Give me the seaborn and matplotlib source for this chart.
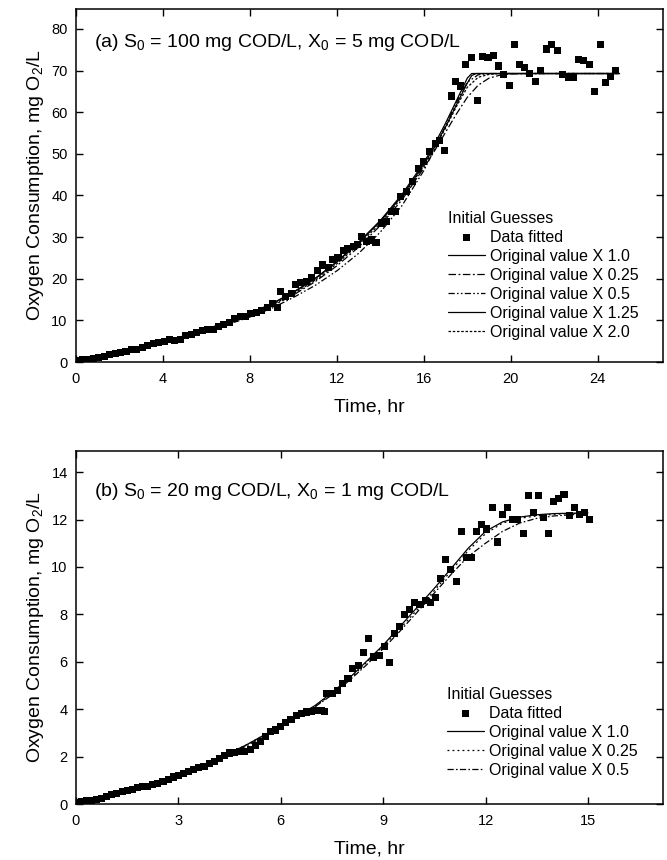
import matplotlib
matplotlib.use("Agg")
import matplotlib.pyplot as plt
import seaborn as sns

# ---------------- data: panel (a) ----------------
t_a = [0.1, 0.3, 0.55, 0.8, 1.05, 1.3, 1.55, 1.8, 2.05, 2.3, 2.55, 2.8, 3.05, 3.3, 3.55, 3.8,
       4.05, 4.3, 4.55, 4.8, 5.05, 5.3, 5.55, 5.8, 6.05, 6.3, 6.55, 6.8, 7.05, 7.3, 7.55, 7.8,
       8.05, 8.3, 8.55, 8.8, 9.05, 9.25, 9.4, 9.65, 9.9, 10.1, 10.35, 10.6, 10.85, 11.1, 11.35,
       11.6, 11.8, 12.05, 12.3, 12.5, 12.75, 12.95, 13.15, 13.35, 13.6, 13.8,
       14.05, 14.28, 14.5, 14.7, 14.94, 15.2, 15.48, 15.74, 16.0, 16.25, 16.54, 16.74, 16.97,
       17.27, 17.47, 17.69, 17.93, 18.19, 18.47, 18.7, 18.95, 19.19, 19.42, 19.68, 19.92,
       20.18, 20.41, 20.64, 20.87, 21.15, 21.38, 21.64, 21.87, 22.15, 22.38, 22.64, 22.87,
       23.1, 23.36, 23.6, 23.86, 24.12, 24.37, 24.6, 24.83]
y_a = [0.4, 0.5, 0.7, 0.9, 1.1, 1.4, 1.7, 2.0, 2.3, 2.6, 2.9, 3.1, 3.5, 3.9, 4.4, 4.6,
       5.0, 5.4, 5.2, 5.4, 6.3, 6.7, 7.1, 7.6, 7.7, 7.9, 8.6, 9.1, 9.4, 10.4, 10.9, 11.0,
       11.6, 12.0, 12.4, 13.0, 14.0, 13.2, 17.0, 15.8, 16.4, 18.6, 19.0, 19.4, 20.4, 22.0, 23.3,
       22.8, 24.6, 25.0, 26.8, 27.2, 27.8, 28.2, 30.2, 29.0, 29.3, 28.8,
       33.4, 33.7, 36.2, 36.1, 39.7, 40.9, 43.3, 46.5, 48.1, 50.5, 52.4, 53.3, 50.7,
       63.9, 67.3, 66.3, 71.5, 73.1, 62.9, 73.4, 73.2, 73.7, 71.1, 69.0, 66.5,
       76.3, 71.5, 70.7, 69.3, 67.3, 70.0, 75.2, 76.3, 74.9, 69.0, 68.4, 68.4,
       72.6, 72.4, 71.5, 65.0, 76.3, 67.1, 68.5, 70.0]

# fitted curves (a)
ct_a_100 = [0, 1, 2, 3, 4, 5, 6, 7, 8, 9, 10, 11, 12, 13, 14, 14.5, 15, 15.5, 16, 16.5, 17, 17.5, 18, 18.2, 18.4, 25]
cy_a_100 = [0, 1.0, 2.2, 3.5, 4.9, 6.3, 7.9, 9.6, 11.6, 13.9, 16.7, 20.0, 24.0, 28.6, 33.8, 36.8, 40.0, 43.6, 47.5, 51.8, 56.5, 61.8, 67.0, 68.8, 69.3, 69.3]
ct_a_025 = [0, 2, 4, 6, 8, 9, 10, 11, 12, 13, 14, 15, 16, 16.5, 17, 17.5, 18, 18.5, 19, 19.5, 20, 21, 25]
cy_a_025 = [0, 2.1, 4.7, 7.6, 11.2, 13.4, 16.1, 19.3, 23.1, 27.6, 32.8, 39.0, 46.6, 50.8, 55.2, 59.6, 63.6, 66.5, 68.2, 68.9, 69.2, 69.3, 69.3]
ct_a_050 = [0, 2, 4, 6, 8, 9, 10, 11, 12, 13, 14, 15, 16, 16.5, 17, 17.5, 18, 18.5, 19, 25]
cy_a_050 = [0, 2.0, 4.5, 7.3, 10.8, 12.9, 15.5, 18.4, 21.9, 26.1, 31.2, 37.6, 46.0, 51.2, 56.8, 62.4, 67.2, 69.0, 69.3, 69.3]
ct_a_125 = [0, 1, 2, 3, 4, 5, 6, 7, 8, 9, 10, 11, 12, 13, 14, 15, 16, 16.5, 17, 17.5, 18, 18.2, 25]
cy_a_125 = [0, 1.0, 2.2, 3.5, 4.9, 6.3, 7.9, 9.7, 11.7, 14.0, 16.8, 20.1, 24.1, 28.8, 34.0, 40.3, 47.9, 52.4, 57.4, 62.8, 68.2, 69.3, 69.3]
ct_a_200 = [0, 2, 4, 6, 8, 9, 10, 11, 12, 13, 14, 15, 16, 16.5, 17, 17.5, 18, 18.5, 19, 19.5, 25]
cy_a_200 = [0, 2.1, 4.8, 7.7, 11.4, 13.6, 16.4, 19.6, 23.6, 28.2, 33.3, 39.6, 47.1, 51.5, 56.2, 61.4, 66.0, 68.4, 69.1, 69.3, 69.3]

# ---------------- data: panel (b) ----------------
t_b = [0.0, 0.15, 0.3, 0.45, 0.6, 0.75, 0.9, 1.05, 1.2, 1.35, 1.5, 1.65, 1.8, 1.95, 2.1, 2.25,
       2.4, 2.55, 2.7, 2.85, 3.0, 3.15, 3.3, 3.45, 3.6, 3.75, 3.9, 4.05, 4.2, 4.35, 4.5, 4.65,
       4.8, 4.95, 5.1, 5.25, 5.4, 5.55, 5.7, 5.85, 6.0, 6.15, 6.3, 6.45, 6.6, 6.75, 6.9, 7.05, 7.2,
       7.29, 7.35, 7.5, 7.65, 7.8, 7.97, 8.1, 8.27, 8.42, 8.57, 8.72, 8.88, 9.03, 9.18, 9.33,
       9.48, 9.63, 9.76, 9.92, 10.08, 10.23, 10.39, 10.54, 10.68, 10.83, 10.98, 11.14, 11.29,
       11.43, 11.58, 11.73, 11.89, 12.04, 12.2, 12.35, 12.5, 12.64, 12.8, 12.95, 13.1, 13.25,
       13.4, 13.55, 13.7, 13.85, 14.0, 14.15, 14.3, 14.45, 14.6, 14.76, 14.9, 15.05]
y_b = [0.08, 0.10, 0.13, 0.16, 0.20, 0.25, 0.32, 0.39, 0.45, 0.52, 0.58, 0.62, 0.68, 0.72, 0.75, 0.82,
       0.88, 0.95, 1.05, 1.14, 1.20, 1.28, 1.38, 1.45, 1.55, 1.60, 1.70, 1.80, 1.92, 2.05, 2.15, 2.18,
       2.20, 2.22, 2.28, 2.45, 2.63, 2.85, 3.05, 3.12, 3.26, 3.45, 3.56, 3.72, 3.80, 3.88, 3.92, 3.96, 3.95,
       3.92, 4.66, 4.66, 4.80, 5.10, 5.30, 5.70, 5.83, 6.40, 6.97, 6.20, 6.26, 6.64, 5.95, 7.20,
       7.50, 8.00, 8.20, 8.50, 8.40, 8.60, 8.50, 8.70, 9.50, 10.30, 9.90, 9.40, 11.50,
       10.40, 10.40, 11.50, 11.80, 11.60, 12.50, 11.05, 12.20, 12.50, 12.00, 12.00, 11.40, 13.00,
       12.30, 13.00, 12.10, 11.40, 12.75, 12.90, 13.05, 12.15, 12.50, 12.20, 12.30, 12.00]

ct_b_100 = [0, 1, 2, 3, 4, 5, 6, 7, 7.5, 8, 8.5, 9, 9.5, 10, 10.5, 11, 11.5, 12, 12.5, 13, 13.5, 14, 15]
cy_b_100 = [0, 0.33, 0.72, 1.2, 1.8, 2.5, 3.3, 4.15, 4.7, 5.3, 6.0, 6.7, 7.5, 8.3, 9.1, 9.95, 10.8, 11.5, 11.9, 12.1, 12.2, 12.25, 12.28]
ct_b_025 = [0, 1, 2, 3, 4, 5, 6, 7, 7.5, 8, 8.5, 9, 9.5, 10, 10.5, 11, 11.5, 12, 12.5, 13, 13.5, 14, 15]
cy_b_025 = [0, 0.33, 0.72, 1.2, 1.8, 2.5, 3.3, 4.1, 4.65, 5.25, 5.95, 6.65, 7.4, 8.2, 9.0, 9.85, 10.7, 11.4, 11.85, 12.05, 12.15, 12.22, 12.27]
ct_b_050 = [0, 1, 2, 3, 4, 5, 6, 7, 7.5, 8, 8.5, 9, 9.5, 10, 10.5, 11, 11.5, 12, 12.5, 13, 13.5, 14, 15]
cy_b_050 = [0, 0.32, 0.7, 1.18, 1.75, 2.45, 3.25, 4.1, 4.6, 5.2, 5.85, 6.55, 7.3, 8.1, 8.9, 9.7, 10.45, 11.0, 11.5, 11.85, 12.05, 12.15, 12.25]

labels_a = ["Original value X 1.0", "Original value X 0.25", "Original value X 0.5",
            "Original value X 1.25", "Original value X 2.0"]
labels_b = ["Original value X 1.0", "Original value X 0.25", "Original value X 0.5"]

# ---------------- style ----------------
sns.set_style("ticks")
plt.rcParams["font.family"] = ["Liberation Sans", "DejaVu Sans"]
plt.rcParams["mathtext.fontset"] = "custom"
plt.rcParams["mathtext.rm"] = "Liberation Sans"
plt.rcParams["mathtext.it"] = "Liberation Sans"
plt.rcParams["mathtext.default"] = "regular"
plt.rcParams["text.color"] = "black"
plt.rcParams["axes.labelcolor"] = "black"
plt.rcParams["xtick.color"] = "black"
plt.rcParams["ytick.color"] = "black"

fig = plt.figure(figsize=(6.67, 8.60), dpi=100)
ax1 = fig.add_axes([76 / 667, 1 - 362 / 860, 587 / 667, 353 / 860])
ax2 = fig.add_axes([76 / 667, 1 - 804 / 860, 587 / 667, 353 / 860])

lw = 0.9
ls_a = ["-", (0, (6, 2, 1.5, 2)), (0, (5, 1.8, 1.3, 1.8, 1.3, 1.8)), "-", (0, (2, 1.4))]
ls_b = ["-", (0, (1.5, 2.5)), (0, (5, 1.8, 1.3, 1.8))]


def style_axes(ax, xlim, ylim, xticks, yticks):
    ax.set_xlim(*xlim)
    ax.set_ylim(*ylim)
    ax.set_xticks(xticks)
    ax.set_yticks(yticks)
    for s in ax.spines.values():
        s.set_visible(True)
        s.set_linewidth(1.1)
        s.set_color("black")
    ax.tick_params(direction="in", length=5, width=1.0, top=True, right=True,
                   labelsize=10.5, colors="black")
    ax.tick_params(axis="x", pad=7.5)
    ax.tick_params(axis="y", pad=6)
    ax.set_xlabel("Time, hr", fontsize=14, labelpad=9)
    ax.set_ylabel("Oxygen Consumption, mg O$_2$/L", fontsize=14, labelpad=4)


leg_kw = dict(title="Initial Guesses", loc="upper left", frameon=False,
              fontsize=11.5, title_fontsize=11.5, handlelength=2.3, handletextpad=0.3,
              labelspacing=0.25, borderpad=0.25, borderaxespad=0, alignment="left")

# panel (a)
sns.scatterplot(x=t_a, y=y_a, ax=ax1, marker="s", s=26, color="black", edgecolor="none",
                linewidth=0, label="Data fitted", zorder=3)
curves_a = [(ct_a_100, cy_a_100), (ct_a_025, cy_a_025), (ct_a_050, cy_a_050),
            (ct_a_125, cy_a_125), (ct_a_200, cy_a_200)]
for (ct, cy), lab, ls in zip(curves_a, labels_a, ls_a):
    sns.lineplot(x=ct, y=cy, ax=ax1, color="black", linewidth=lw, linestyle=ls,
                 label=lab, sort=False, estimator=None)
style_axes(ax1, (0, 27), (0, 84.8), [0, 4, 8, 12, 16, 20, 24], [0, 10, 20, 30, 40, 50, 60, 70, 80])
ax1.text(0.03, 0.904, "(a) S$_0$ = 100 mg COD/L, X$_0$ = 5 mg COD/L", transform=ax1.transAxes,
         fontsize=14, va="center", ha="left")
ax1.legend(bbox_to_anchor=(444 / 667, 1 - 207 / 860), bbox_transform=fig.transFigure, **leg_kw)

# panel (b)
sns.scatterplot(x=t_b, y=y_b, ax=ax2, marker="s", s=26, color="black", edgecolor="none",
                linewidth=0, label="Data fitted", zorder=3)
curves_b = [(ct_b_100, cy_b_100), (ct_b_025, cy_b_025), (ct_b_050, cy_b_050)]
for (ct, cy), lab, ls in zip(curves_b, labels_b, ls_b):
    sns.lineplot(x=ct, y=cy, ax=ax2, color="black", linewidth=lw, linestyle=ls,
                 label=lab, sort=False, estimator=None)
style_axes(ax2, (0, 17.2), (0, 14.89), [0, 3, 6, 9, 12, 15], [0, 2, 4, 6, 8, 10, 12, 14])
ax2.text(0.03, 0.884, "(b) S$_0$ = 20 mg COD/L, X$_0$ = 1 mg COD/L", transform=ax2.transAxes,
         fontsize=14, va="center", ha="left")
ax2.legend(bbox_to_anchor=(443 / 667, 1 - 683 / 860), bbox_transform=fig.transFigure, **leg_kw)

fig.savefig("out.png", dpi=100)
